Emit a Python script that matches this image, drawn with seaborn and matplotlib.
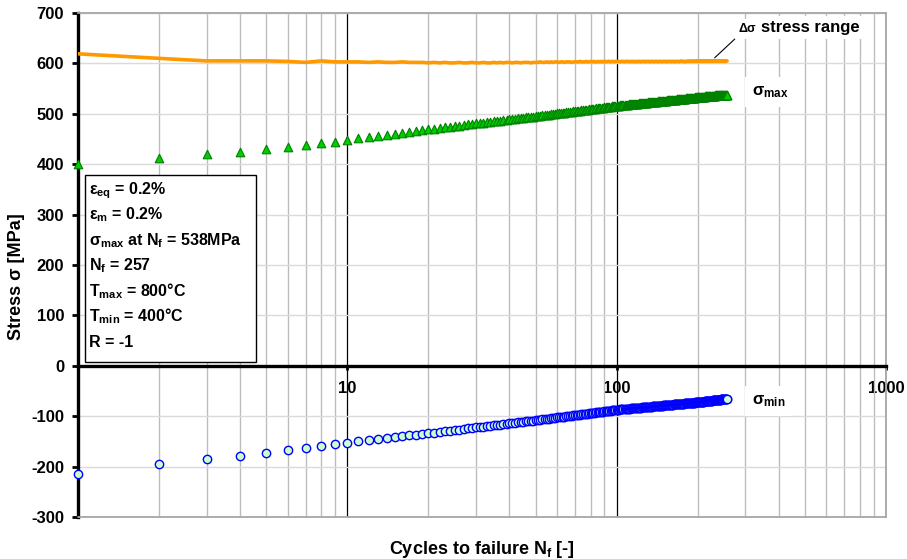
import numpy as np
import pandas as pd
import matplotlib
matplotlib.use("Agg")
import matplotlib.pyplot as plt
import seaborn as sns
from matplotlib.patches import Rectangle
from matplotlib.ticker import FixedLocator, FixedFormatter, LogLocator, NullFormatter

# Measured stress per cycle (MPa), cycles 1..257
sigma_max = [
    401, 412, 420, 425, 430, 435, 438, 442, 444, 448,
    451, 454, 456, 458, 460, 462, 464, 466, 467, 469,
    470, 472, 473, 474, 475, 476, 478, 479, 480, 481,
    481, 482, 483, 484, 485, 486, 486, 487, 488, 489,
    489, 490, 491, 491, 492, 493, 493, 494, 494, 495,
    496, 496, 497, 497, 498, 498, 499, 500, 500, 501,
    501, 502, 502, 502, 503, 503, 504, 504, 505, 505,
    506, 506, 506, 507, 507, 508, 508, 508, 509, 509,
    510, 510, 510, 511, 511, 511, 512, 512, 512, 513,
    513, 513, 514, 514, 514, 515, 515, 515, 516, 516,
    516, 516, 517, 517, 517, 517, 518, 518, 518, 518,
    519, 519, 519, 519, 519, 520, 520, 520, 520, 520,
    521, 521, 521, 521, 521, 522, 522, 522, 522, 522,
    523, 523, 523, 523, 523, 524, 524, 524, 524, 524,
    524, 525, 525, 525, 525, 525, 525, 526, 526, 526,
    526, 526, 526, 527, 527, 527, 527, 527, 527, 528,
    528, 528, 528, 528, 528, 528, 529, 529, 529, 529,
    529, 529, 529, 530, 530, 530, 530, 530, 530, 530,
    531, 531, 531, 531, 531, 531, 531, 531, 532, 532,
    532, 532, 532, 532, 532, 533, 533, 533, 533, 533,
    533, 533, 533, 533, 534, 534, 534, 534, 534, 534,
    534, 534, 535, 535, 535, 535, 535, 535, 535, 535,
    535, 535, 536, 536, 536, 536, 536, 536, 536, 536,
    536, 537, 537, 537, 537, 537, 537, 537, 537, 537,
    537, 538, 538, 538, 538, 538, 538, 538, 538, 538,
    538, 538, 538, 538, 538, 538, 538,
]

sigma_min = [
    -214, -195, -184, -178, -173, -168, -164, -160, -156, -153,
    -150, -148, -146, -144, -142, -140, -138, -137, -135, -134,
    -133, -131, -130, -129, -128, -127, -126, -124, -123, -122,
    -122, -121, -120, -119, -118, -117, -117, -116, -115, -114,
    -114, -113, -112, -112, -111, -110, -110, -109, -109, -108,
    -107, -107, -106, -106, -105, -105, -104, -103, -103, -102,
    -102, -101, -101, -101, -100, -100, -99, -99, -98, -98,
    -97, -97, -97, -96, -96, -95, -95, -95, -94, -94,
    -93, -93, -93, -92, -92, -92, -91, -91, -91, -90,
    -90, -90, -89, -89, -89, -88, -88, -88, -87, -87,
    -87, -87, -86, -86, -86, -86, -86, -85, -85, -85,
    -85, -85, -84, -84, -84, -84, -84, -83, -83, -83,
    -83, -83, -83, -82, -82, -82, -82, -82, -81, -81,
    -81, -81, -81, -81, -81, -80, -80, -80, -80, -80,
    -80, -79, -79, -79, -79, -79, -79, -79, -78, -78,
    -78, -78, -78, -78, -78, -77, -77, -77, -77, -77,
    -77, -77, -76, -76, -76, -76, -76, -76, -76, -76,
    -75, -75, -75, -75, -75, -75, -75, -75, -74, -74,
    -74, -74, -74, -74, -74, -74, -73, -73, -73, -73,
    -73, -73, -73, -73, -73, -72, -72, -72, -72, -72,
    -72, -72, -72, -71, -71, -71, -71, -71, -71, -71,
    -71, -70, -70, -70, -70, -70, -70, -70, -69, -69,
    -69, -69, -69, -69, -69, -69, -68, -68, -68, -68,
    -68, -68, -68, -68, -67, -67, -67, -67, -67, -67,
    -67, -67, -67, -66, -66, -66, -66, -66, -66, -66,
    -66, -66, -65, -65, -65, -65, -65,
]

stress_range = [
    619, 610, 605, 605, 605, 604, 602, 605, 603, 603,
    603, 602, 603, 602, 602, 603, 602, 602, 602, 601,
    602, 601, 602, 601, 601, 602, 601, 601, 602, 601,
    601, 602, 601, 601, 602, 601, 602, 601, 602, 602,
    601, 602, 602, 601, 602, 602, 602, 601, 602, 602,
    602, 603, 602, 602, 603, 602, 603, 602, 603, 603,
    602, 603, 603, 602, 603, 603, 603, 602, 603, 603,
    603, 603, 604, 603, 603, 603, 604, 603, 603, 604,
    603, 604, 603, 603, 604, 603, 604, 603, 604, 603,
    604, 603, 604, 604, 603, 604, 604, 603, 604, 604,
    604, 604, 603, 604, 604, 604, 603, 604, 604, 604,
    604, 603, 604, 604, 604, 603, 604, 604, 603, 604,
    604, 604, 603, 604, 604, 604, 604, 603, 604, 604,
    604, 604, 603, 604, 604, 604, 604, 603, 604, 604,
    604, 603, 604, 604, 604, 604, 603, 604, 604, 604,
    604, 604, 603, 604, 604, 604, 604, 604, 603, 604,
    604, 604, 604, 603, 604, 604, 604, 604, 604, 603,
    604, 604, 604, 605, 604, 604, 604, 604, 603, 604,
    604, 604, 604, 605, 604, 604, 604, 605, 604, 604,
    604, 605, 604, 604, 604, 605, 604, 604, 605, 604,
    604, 605, 604, 604, 605, 604, 605, 604, 604, 605,
    604, 605, 604, 605, 604, 605, 605, 604, 605, 604,
    605, 604, 605, 605, 604, 605, 605, 604, 605, 605,
    604, 605, 605, 605, 604, 605, 605, 604, 605, 605,
    605, 604, 605, 605, 605, 604, 605, 605, 605, 604,
    605, 605, 605, 604, 605, 605, 605,
]

cycles = list(range(1, len(sigma_max) + 1))

y_ticks = [-300, -200, -100, 0, 100, 200, 300, 400, 500, 600, 700]
x_ticks = [1, 10, 100, 1000]
x_tick_labels = ["", "10", "100", "1000"]

info_lines = [
    r"ε$_{eq}$ = 0.2%",
    r"ε$_{m}$ = 0.2%",
    r"σ$_{max}$ at N$_{f}$ = 538MPa",
    r"N$_{f}$ = 257",
    r"T$_{max}$ = 800°C",
    r"T$_{min}$ = 400°C",
    r"R = -1",
]

df = pd.DataFrame({
    "N": cycles,
    "sigma_max": sigma_max,
    "sigma_min": sigma_min,
    "stress_range": stress_range,
})

sns.set_theme(style="white")
plt.rcParams["font.family"] = ["Liberation Sans", "DejaVu Sans"]
plt.rcParams["font.weight"] = "bold"
plt.rcParams["mathtext.fontset"] = "custom"
plt.rcParams["mathtext.rm"] = "Liberation Sans:bold"
plt.rcParams["mathtext.it"] = "Liberation Sans:bold"
plt.rcParams["mathtext.bf"] = "Liberation Sans:bold"
plt.rcParams["mathtext.sf"] = "Liberation Sans:bold"

W, H = 907, 559
L, R, T, B = 78, 886, 13, 517
fig = plt.figure(figsize=(W / 100, H / 100), dpi=100)
ax = fig.add_axes([L / W, 1 - B / H, (R - L) / W, (B - T) / H])

ax.set_xscale("log")
ax.set_xlim(1, 1000)
ax.set_ylim(-300, 700)

# data series
sns.lineplot(data=df, x="N", y="stress_range", color="#ff9900", lw=2.6,
             ax=ax, zorder=4)
sns.scatterplot(data=df, x="N", y="sigma_max", marker="^", s=38,
                color="#00cc00", edgecolor="#008000", linewidth=0.8,
                ax=ax, zorder=5, clip_on=False)
sns.scatterplot(data=df, x="N", y="sigma_min", marker="o", s=36,
                color="#ccffcc", edgecolor="#0000ff", linewidth=1.0,
                ax=ax, zorder=5, clip_on=False)

# ticks
ax.xaxis.set_major_locator(FixedLocator(x_ticks))
ax.xaxis.set_major_formatter(FixedFormatter(x_tick_labels))
ax.xaxis.set_minor_locator(LogLocator(base=10, subs=np.arange(2, 10), numticks=50))
ax.xaxis.set_minor_formatter(NullFormatter())
ax.set_yticks(y_ticks)
ax.set_yticklabels([str(v) for v in y_ticks])
ax.tick_params(axis="y", which="major", direction="out", length=4, width=2,
               color="black", labelsize=12, pad=6, left=True, labelcolor="black")
ax.tick_params(axis="x", which="major", direction="out", length=3, width=2,
               color="black", labelsize=12, pad=8, bottom=True, labelcolor="black")
ax.tick_params(axis="x", which="minor", length=0)

# grid
ax.set_axisbelow(True)
ax.yaxis.grid(True, color="#dadada", lw=1.0)
ax.xaxis.grid(True, which="minor", color="#bdbdbd", lw=1.0)
ax.xaxis.grid(True, which="major", color="black", lw=0.9)
for tick, loc in zip(ax.xaxis.get_major_ticks(), ax.xaxis.get_majorticklocs()):
    if loc <= 1 or loc >= 1000:
        tick.gridline.set_visible(False)

# axis lines: thick black y axis and x axis at zero, grey frame elsewhere
ax.spines["left"].set_color("black")
ax.spines["left"].set_linewidth(2.4)
ax.spines["bottom"].set_position(("data", 0))
ax.spines["bottom"].set_color("black")
ax.spines["bottom"].set_linewidth(2.4)
ax.spines["bottom"].set_zorder(3)
for side in ("top", "right"):
    ax.spines[side].set_color("#a6a6a6")
    ax.spines[side].set_linewidth(1.3)
ax.axhline(-300, color="#a6a6a6", lw=1.3, zorder=3, clip_on=False)

# axis titles
ax.set_ylabel("Stress σ [MPa]", fontsize=13, fontweight="bold", color="black")
ax.yaxis.set_label_coords(-0.066, 0.476)
ax.set_xlabel(r"Cycles to failure N$_{f}$ [-]", fontsize=13, fontweight="bold",
              color="black")
ax.xaxis.set_label_coords(0.5, -0.044)

# test condition box
ax.add_patch(Rectangle((0.0087, 0.3075), 0.2116, 0.371, transform=ax.transAxes,
                       facecolor="white", edgecolor="black", lw=1.0, zorder=6))
y0, dy = 0.6409, 0.0506
for i, line in enumerate(info_lines):
    ax.text(0.0136, y0 - i * dy, line, transform=ax.transAxes, fontsize=11.5,
            fontweight="bold", va="baseline", ha="left", color="black", zorder=7)

# series labels
white = dict(facecolor="white", edgecolor="none", pad=3)
ax.annotate("Δσ", xy=(231, 611), xycoords="data", xytext=(0.818, 0.962),
            textcoords="axes fraction", fontsize=9, fontweight="bold",
            va="baseline", ha="left", color="black", zorder=7, bbox=white,
            arrowprops=dict(arrowstyle="-", color="black", lw=0.8,
                            relpos=(0, 0), shrinkA=0, shrinkB=0))
ax.text(0.845, 0.962, "stress range", transform=ax.transAxes, fontsize=12,
        fontweight="bold", va="baseline", ha="left", color="black", zorder=7,
        bbox=white)
ax.text(0.834, 0.837, r"σ$_{max}$", transform=ax.transAxes, fontsize=12,
        fontweight="bold", va="baseline", ha="left", color="black", zorder=7,
        bbox=dict(facecolor="white", edgecolor="none", pad=5))
ax.text(0.834, 0.224, r"σ$_{min}$", transform=ax.transAxes, fontsize=12,
        fontweight="bold", va="baseline", ha="left", color="black", zorder=7,
        bbox=dict(facecolor="white", edgecolor="none", pad=5))

fig.savefig("out.png", dpi=100, facecolor="white")
